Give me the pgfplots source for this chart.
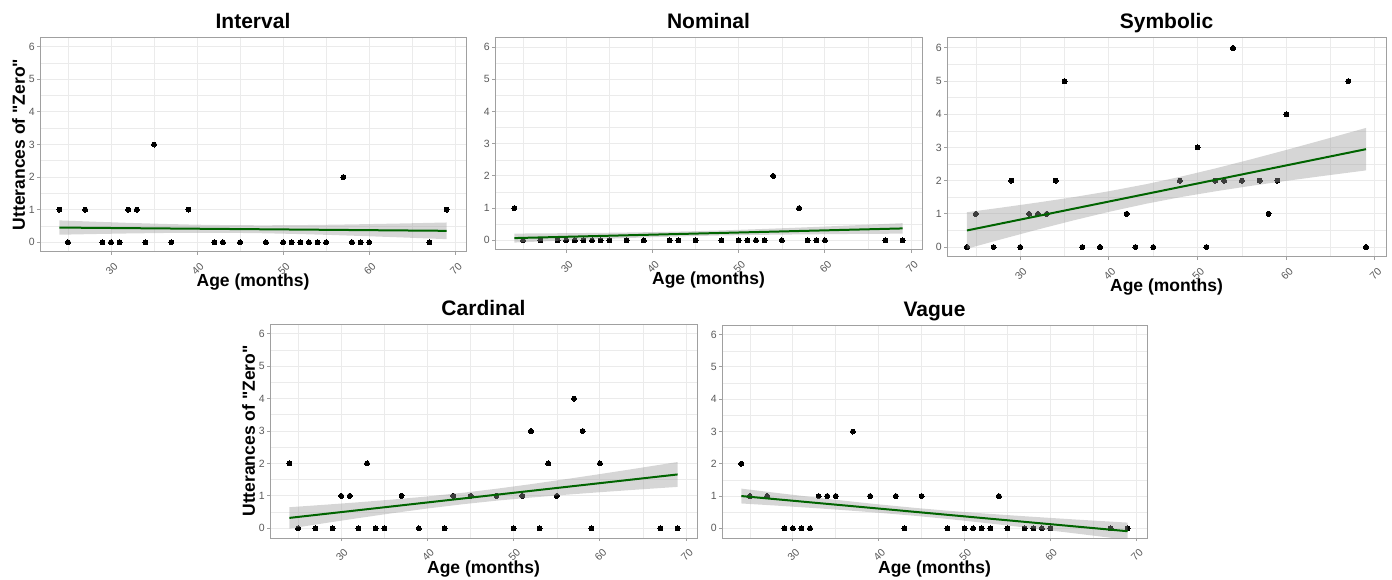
\documentclass[border=0pt]{standalone}
\usepackage{fontspec}
\setmainfont{Liberation Sans}[Ligatures=TeXOff]
\usepackage{pgfplots}
\usepackage{pgfplotstable}
\pgfplotsset{compat=1.18}
\definecolor{gridc}{HTML}{EBEBEB}
\definecolor{borderc}{HTML}{A0A0A0}
\definecolor{tickc}{HTML}{5A5A5A}
\definecolor{fitc}{HTML}{006400}
\definecolor{bandc}{HTML}{999999}

\pgfplotstableread{
age interval nominal symbolic cardinal vague
24 1 1 0 2 2
25 0 0 1 0 1
27 1 0 0 0 1
29 0 0 2 0 0
30 0 0 0 1 0
31 0 0 1 1 0
32 1 0 1 0 0
33 1 0 1 2 1
34 0 0 2 0 1
35 3 0 5 0 1
37 0 0 0 1 3
39 1 0 0 0 1
42 0 0 1 0 1
43 0 0 0 1 0
45 0 0 0 1 1
48 0 0 2 1 0
50 0 0 3 0 0
51 0 0 0 1 0
52 0 0 2 3 0
53 0 0 2 0 0
54 0 2 6 2 1
55 0 0 2 1 0
57 2 1 2 4 0
58 0 0 1 3 0
59 0 0 2 0 0
60 0 0 4 2 0
67 0 0 5 0 0
69 1 0 0 0 0
}\kids

\pgfplotsset{
  panel/.style={
    scale only axis,
    clip mode=individual,
    xmin=21.75, xmax=71.25, ymin=-0.3, ymax=6.3,
    xtick={30,40,50,60,70}, ytick={0,1,2,3,4,5,6},
    minor xtick={25,35,45,55,65},
    minor ytick={0.5,1.5,2.5,3.5,4.5,5.5},
    grid=both,
    major grid style={draw=gridc, line width=1pt},
    minor grid style={draw=gridc, line width=0.6pt},
    axis line style={draw=borderc, line width=1pt},
    tick align=outside, major tick length=3pt, minor tick length=0pt,
    major tick style={draw=borderc, line width=1pt},
    xtick pos=bottom, ytick pos=left,
    ticklabel style={font=\fontsize{10.5}{12}\selectfont, text=tickc},
    xticklabel style={xshift=5pt, yshift=-9.5pt, rotate=45, anchor=east, inner sep=0pt},
    yticklabel style={inner sep=0pt, xshift=-2pt},
    /pgf/number format/assume math mode=true,
  },
  pts/.style={only marks, mark=*, mark size=2.5pt, mark options={fill=black, draw=black, line width=0pt}},
  band/.style={draw=none, fill=bandc, fill opacity=0.4},
  fit/.style={draw=fitc, line width=2pt, no marks},
}
\newcommand{\ptitle}[1]{\node[anchor=base, font=\fontsize{21}{25}\selectfont\bfseries, yshift=9pt] at (rel axis cs:0.5,1) {#1};}
\newcommand{\pxlabel}{\node[anchor=base, font=\fontsize{17.5}{21}\selectfont\bfseries, yshift=-35pt] at (rel axis cs:0.5,0) {Age (months)};}
\newcommand{\pylabel}{\node[xshift=-21.5pt, anchor=center, rotate=90, font=\fontsize{17.5}{21}\selectfont\bfseries] at (rel axis cs:0,0.5) {Utterances of "Zero"};}

\begin{document}
\begin{tikzpicture}
\path[use as bounding box] (0,0) rectangle (1392pt,579pt);

% Interval
\begin{axis}[panel, at={(40pt,327pt)}, anchor=south west, width=426pt, height=215pt]
\addplot[pts] table[x=age, y=interval] {\kids};
\addplot[band] coordinates {(24,0.670) (28,0.631) (32,0.595) (36,0.563) (40,0.538) (44.25,0.523) (48,0.520) (52,0.526) (56,0.539) (60,0.557) (64,0.577) (69,0.606)
 (69,0.094) (64,0.145) (60,0.183) (56,0.219) (52,0.250) (48,0.274) (44.25,0.287) (40,0.290) (36,0.283) (32,0.269) (28,0.251) (24,0.230)};
\addplot[fit] coordinates {(24,0.45) (69,0.35)};
\ptitle{Interval}
\pxlabel
\pylabel
\end{axis}

% Nominal
\begin{axis}[panel, at={(495pt,329pt)}, anchor=south west, width=427pt, height=212.5pt]
\addplot[pts] table[x=age, y=nominal] {\kids};
\addplot[band] coordinates {(24,0.210) (28,0.218) (32,0.227) (36,0.239) (40,0.256) (44.25,0.280) (48,0.308) (52,0.345) (56,0.385) (60,0.429) (64,0.474) (69,0.533)
 (69,0.207) (64,0.200) (60,0.191) (56,0.181) (52,0.169) (48,0.152) (44.25,0.130) (40,0.098) (36,0.061) (32,0.019) (28,-0.024) (24,-0.070)};
\addplot[fit] coordinates {(24,0.07) (69,0.37)};
\ptitle{Nominal}
\pxlabel
\end{axis}

% Symbolic
\begin{axis}[panel, at={(947pt,322pt)}, anchor=south west, width=439pt, height=219pt]
\addplot[pts] table[x=age, y=symbolic] {\kids};
\addplot[band] coordinates {(24,1.050) (28,1.193) (32,1.343) (36,1.503) (40,1.682) (44.25,1.897) (48,2.114) (52,2.369) (56,2.641) (60,2.926) (64,3.219) (69,3.590)
 (69,2.310) (64,2.137) (60,1.994) (56,1.843) (52,1.679) (48,1.500) (44.25,1.307) (40,1.060) (36,0.803) (32,0.529) (28,0.243) (24,-0.050)};
\addplot[fit] coordinates {(24,0.50) (69,2.95)};
\ptitle{Symbolic}
\pxlabel
\end{axis}

% Cardinal
\begin{axis}[panel, at={(270pt,41pt)}, anchor=south west, width=427pt, height=214pt]
\addplot[pts] table[x=age, y=cardinal] {\kids};
\addplot[band] coordinates {(24,0.650) (28,0.724) (32,0.802) (36,0.887) (40,0.982) (44.25,1.100) (48,1.219) (52,1.361) (56,1.513) (60,1.672) (64,1.835) (69,2.044)
 (69,1.276) (64,1.187) (60,1.112) (56,1.033) (52,0.947) (48,0.851) (44.25,0.746) (40,0.610) (36,0.467) (32,0.314) (28,0.154) (24,-0.010)};
\addplot[fit] coordinates {(24,0.32) (69,1.66)};
\ptitle{Cardinal}
\pxlabel
\pylabel
\end{axis}

% Vague
\begin{axis}[panel, at={(722pt,41pt)}, anchor=south west, width=425pt, height=213pt]
\addplot[pts] table[x=age, y=vague] {\kids};
\addplot[band] coordinates {(24,1.230) (28,1.101) (32,0.976) (36,0.855) (40,0.742) (44.25,0.633) (48,0.547) (52,0.466) (56,0.392) (60,0.322) (64,0.256) (69,0.177)
 (69,-0.357) (64,-0.194) (60,-0.066) (56,0.058) (52,0.178) (48,0.291) (44.25,0.387) (40,0.482) (36,0.563) (32,0.636) (28,0.705) (24,0.770)};
\addplot[fit] coordinates {(24,1.00) (69,-0.09)};
\ptitle{Vague}
\pxlabel
\end{axis}
\end{tikzpicture}
\end{document}
